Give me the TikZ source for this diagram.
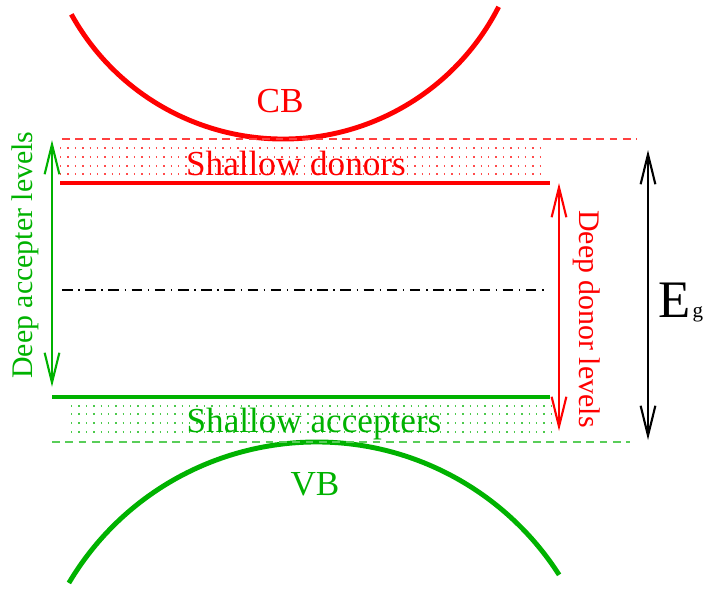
\documentclass[tikz,border=0pt]{standalone}
\usepackage{fontspec}
\setmainfont{Liberation Serif}
\usetikzlibrary{arrows.meta}
\definecolor{cbred}{RGB}{255,0,0}
\definecolor{vbgreen}{RGB}{0,178,0}
\begin{document}
\begin{tikzpicture}[>={Straight Barb[length=8.5pt,width=4.2pt]},
  band/.style={line width=1.4pt},
  level/.style={line width=1.1pt},
  dots/.style={line width=0.4pt,dash pattern=on 0.4pt off 1.7pt},
  edge/.style={line width=0.5pt,dash pattern=on 2.2pt off 1.6pt},
  dimarrow/.style={<->,line width=0.6pt},
  lab/.style={font=\fontsize{10}{12}\selectfont},
  sidelab/.style={font=\fontsize{8.5}{10}\selectfont}]
\useasboundingbox (0,0) rectangle (7.04,5.88);
% bands
\draw[band,cbred] (2.83,6.91) ++(209:2.42) arc (209:333:2.42);
\draw[band,vbgreen] (3.165,-1.42) ++(149.3:2.88) arc (149.3:32.6:2.88);
\node[lab,cbred,anchor=base] (cb) at (2.80,4.76) {CB};
\node[lab,vbgreen,anchor=base] (vb) at (3.15,0.93) {VB};
% band edges
\draw[edge,cbred!75] (0.62,4.49)--(6.37,4.49);
\draw[edge,vbgreen!65] (0.52,1.46)--(6.30,1.46);
% shallow levels
\foreach \y in {4.40,4.31,4.22,4.14}
{
    \draw[dots,cbred!70] (0.60,\y)--(5.42,\y);
}
\foreach \y in {1.82,1.74,1.65,1.56}
{
    \draw[dots,vbgreen!70] (0.71,\y)--(5.52,\y);
}
\draw[level,cbred] (0.60,4.05)--(5.50,4.05);
\draw[level,vbgreen] (0.52,1.91)--(5.50,1.91);
\node[lab,cbred,anchor=base] (sdon) at (2.96,4.13) {Shallow donors};
\node[lab,vbgreen,anchor=base] (sacc) at (3.14,1.56) {Shallow accepters};
% midgap
\draw[line width=0.5pt,dash pattern=on 3pt off 1.6pt on 0.4pt off 1.6pt] (0.62,2.98)--(5.48,2.98);
% deep levels and gap
\coordinate (acctop) at (0.52,4.48);
\coordinate (accbot) at (0.52,2.01);
\coordinate (dontop) at (5.59,4.05);
\coordinate (donbot) at (5.59,1.57);
\coordinate (gaptop) at (6.48,4.38);
\coordinate (gapbot) at (6.48,1.48);
\draw[dimarrow,vbgreen] (acctop)--(accbot);
\draw[dimarrow,cbred] (dontop)--(donbot);
\draw[dimarrow,black] (gaptop)--(gapbot);
\node[sidelab,vbgreen,rotate=90] (dacc) at (0.25,3.33) {Deep accepter levels};
\node[sidelab,cbred,rotate=-90] (ddon) at (5.87,2.69) {Deep donor levels};
\node[anchor=base west,inner sep=0pt] (eg) at (6.58,2.71)
  {\fontsize{15}{15}\selectfont E\kern0.5pt\fontsize{6}{6}\selectfont g};
\end{tikzpicture}
\end{document}
